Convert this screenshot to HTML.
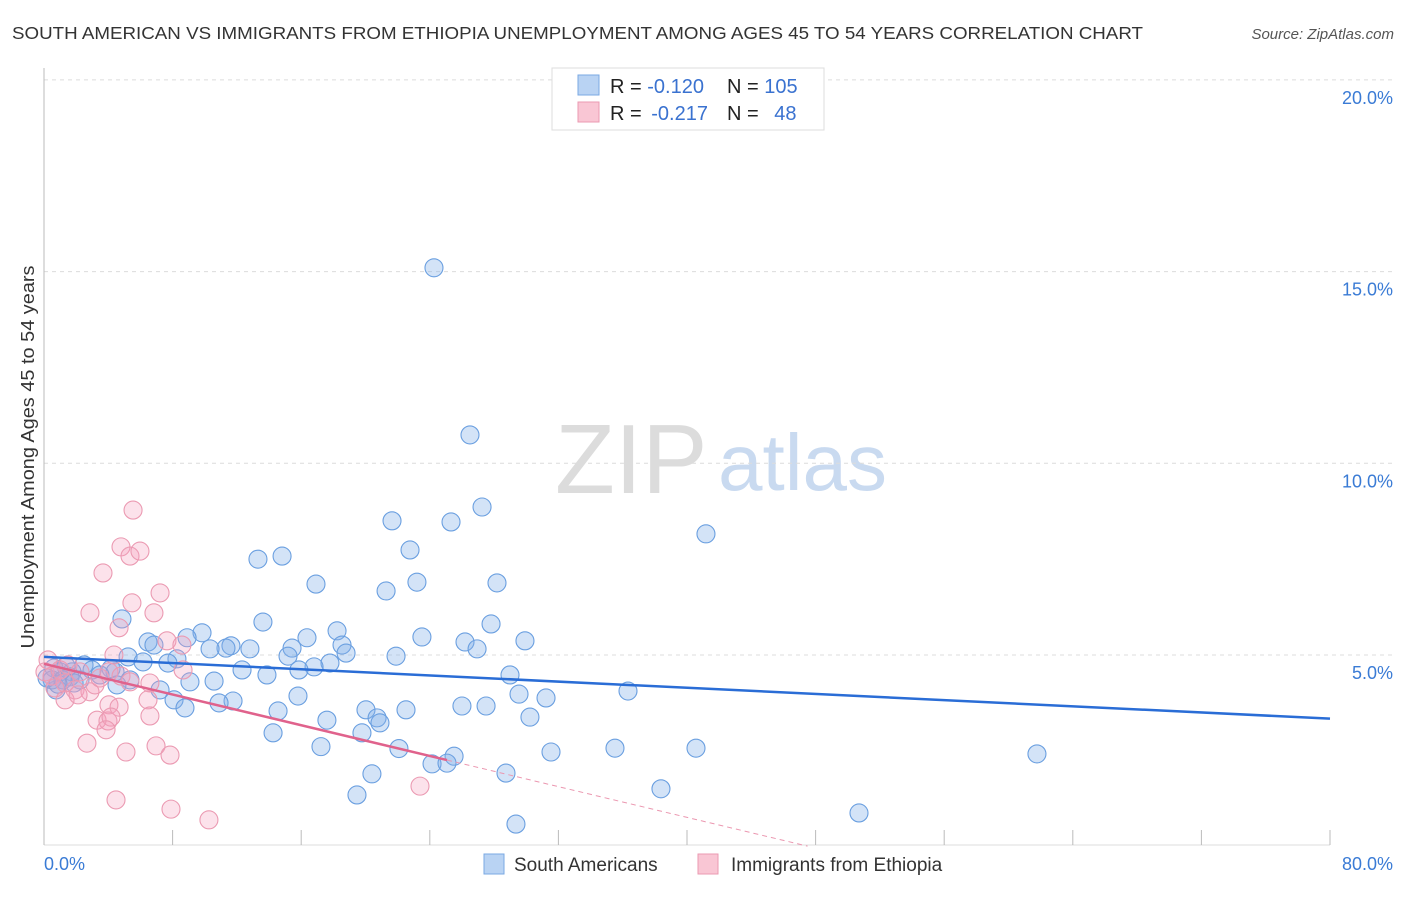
<!DOCTYPE html>
<html><head><meta charset="utf-8">
<style>
body{margin:0;background:#fff;font-family:"Liberation Sans",sans-serif;}
svg text{font-family:"Liberation Sans",sans-serif;}
</style></head>
<body>
<svg id="chart" width="1406" height="892" viewBox="0 0 1406 892" xmlns="http://www.w3.org/2000/svg">
<text x="12" y="39" font-size="17.5" fill="#333" textLength="1131" lengthAdjust="spacingAndGlyphs">SOUTH AMERICAN VS IMMIGRANTS FROM ETHIOPIA UNEMPLOYMENT AMONG AGES 45 TO 54 YEARS CORRELATION CHART</text>
<text x="1394" y="39" font-size="15" fill="#555" font-style="italic" text-anchor="end">Source: ZipAtlas.com</text>
<text transform="translate(34,457) rotate(-90)" font-size="18.5" fill="#333" text-anchor="middle" textLength="383" lengthAdjust="spacingAndGlyphs">Unemployment Among Ages 45 to 54 years</text>
<g>
<text x="555" y="493" font-size="98" fill="#dcdcdc" font-family="Liberation Serif, serif">ZIP</text>
<text x="718" y="490" font-size="80" fill="#c9daf0">atlas</text>
</g>
<g id="grid"></g>
<g id="axes"></g>
<g id="marks"></g>
<g>
<rect x="552" y="68" width="272" height="62" fill="#fff" stroke="#ddd"/>
<rect x="578" y="75" width="21" height="20" fill="#b9d3f3" stroke="#7aa8e3"/>
<text x="610" y="93" font-size="20" fill="#222">R = <tspan fill="#3a72d0">-0.120</tspan></text>
<text x="727" y="93" font-size="20" fill="#222">N = <tspan fill="#3a72d0">105</tspan></text>
<rect x="578" y="102" width="21" height="20" fill="#f9c6d4" stroke="#eb9ab2"/>
<text x="610" y="120" font-size="20" fill="#222">R = <tspan fill="#3a72d0" dx="4">-0.217</tspan></text>
<text x="727" y="120" font-size="20" fill="#222">N = <tspan fill="#3a72d0" dx="10">48</tspan></text>
</g>
<g>
<rect x="484" y="854" width="20" height="20" fill="#b9d3f3" stroke="#7aa8e3"/>
<text x="514" y="871" font-size="19" fill="#333">South Americans</text>
<rect x="698" y="854" width="20" height="20" fill="#f9c6d4" stroke="#eb9ab2"/>
<text x="731" y="871" font-size="19" fill="#333">Immigrants from Ethiopia</text>
</g>
</svg>
<script>
const blueX=[24.26,26.5,27.25,21.65,25.32,41.18,22.77,13.31,14.81,16.92,23.2,21.28,28.18,4.85,13.62,27.81,18.23,9.83,23.51,8.9,26.19,29.92,6.47,6.84,18.54,11.63,11.32,16.36,15.43,26.94,12.81,10.33,18.79,15.18,21.9,5.23,8.27,6.16,7.71,17.79,16.8,12.32,15.86,28.99,13.87,4.17,4.42,2.49,1.37,2.99,1.74,0.62,1.0,3.48,5.35,9.08,10.58,4.54,7.22,36.33,15.8,29.55,31.23,11.76,10.89,8.09,8.77,20.03,22.52,26.0,27.5,20.72,20.9,17.6,30.23,14.56,14.25,19.78,17.23,22.08,31.54,35.52,40.56,61.77,25.51,24.14,25.07,20.4,28.74,38.38,19.47,29.36,50.7,0.75,0.5,0.19,1.62,2.24,1.18,1.87,0.87];
const blueY=[15.10,10.74,8.86,8.50,8.47,8.16,7.74,7.50,7.58,6.85,6.90,6.67,6.88,5.94,5.86,5.81,5.63,5.58,5.47,5.45,5.34,5.37,5.34,5.26,5.26,5.24,5.18,5.45,5.18,5.16,5.16,5.16,5.05,4.97,4.97,4.95,4.90,4.82,4.79,4.79,4.69,4.61,4.61,4.48,4.48,4.64,4.56,4.74,4.71,4.61,4.56,4.66,4.56,4.48,4.35,4.30,4.32,4.22,4.09,4.06,3.93,3.98,3.88,3.80,3.75,3.83,3.62,3.57,3.57,3.67,3.67,3.36,3.23,3.30,3.38,3.54,2.97,2.97,2.61,2.56,2.47,2.57,2.57,2.42,2.36,2.16,2.18,1.90,1.92,1.51,1.35,0.59,0.88,4.09,4.35,4.40,4.43,4.35,4.35,4.27,4.24];
const pinkX=[5.54,4.79,5.35,5.97,3.67,7.22,5.47,2.86,6.84,4.67,7.65,8.58,4.35,0.25,0.06,0.5,1.0,1.49,2.24,1.31,0.68,1.93,2.86,3.17,3.48,4.04,4.79,5.35,6.59,6.47,8.65,4.04,4.67,3.3,3.98,4.17,6.59,3.86,6.97,7.84,5.1,2.67,4.48,7.9,10.26,23.39,1.31,2.12];
const pinkY=[8.78,7.82,7.58,7.71,7.14,6.62,6.36,6.10,6.10,5.71,5.37,5.26,5.0,4.87,4.56,4.45,4.61,4.74,4.56,4.27,4.14,4.09,4.04,4.22,4.40,4.56,4.45,4.30,4.27,3.83,4.61,3.70,3.64,3.30,3.28,3.38,3.41,3.05,2.63,2.39,2.47,2.70,1.22,0.98,0.70,1.58,3.83,3.96];
const blueTrend=[0,4.95,80,3.34];
const pinkTrend=[0,4.77,25.07,2.26];
const pinkTrendDashEnd=47.5;
const yTicks=[5,10,15,20];
const yTickLabels=["5.0%","10.0%","15.0%","20.0%"];
const xTicks=[0,8,16,24,32,40,48,56,64,72,80];

const NS="http://www.w3.org/2000/svg";
const X0=44,X1=1330,Y0=846.7,PXPER=38.34;
const sx=v=>X0+(X1-X0)*v/80;
const sy=v=>Y0-v*PXPER;
function mk(tag,attrs,parent){const e=document.createElementNS(NS,tag);for(const k in attrs)e.setAttribute(k,attrs[k]);parent.appendChild(e);return e;}
const grid=document.getElementById('grid'),axes=document.getElementById('axes'),marks=document.getElementById('marks');
yTicks.forEach((t,i)=>{
  const l=mk('line',{x1:X0,x2:1394,y1:sy(t),y2:sy(t),stroke:'#dcdcdc','stroke-dasharray':'4,4'},grid);
  
  
  const tx=mk('text',{x:1393,y:sy(t)+24,'font-size':18,fill:'#3a7bd5','text-anchor':'end'},axes);
  tx.textContent=yTickLabels[i];
  
  
});
const ya=mk('line',{x1:X0,x2:X0,y1:68,y2:845,stroke:'#bbb'},axes);


const xa=mk('line',{x1:X0,x2:X1,y1:845,y2:845,stroke:'#ddd'},axes);


xTicks.forEach(t=>{
  const l=mk('line',{x1:sx(t),x2:sx(t),y1:830,y2:845,stroke:'#bbb'},axes);
  
  
});
const xl0=mk('text',{x:44,y:870,'font-size':18,fill:'#3a7bd5'},axes);
xl0.textContent='0.0%';


const xl1=mk('text',{x:1393,y:870,'font-size':18,fill:'#3a7bd5','text-anchor':'end'},axes);
xl1.textContent='80.0%';



blueX.forEach((x,i)=>{
  const c=mk('circle',{cx:sx(x),cy:sy(blueY[i]),r:9,fill:'rgba(130,175,232,0.35)',stroke:'#6a9fe0','stroke-width':1.1},marks);
  
  
});
pinkX.forEach((x,i)=>{
  const c=mk('circle',{cx:sx(x),cy:sy(pinkY[i]),r:9,fill:'rgba(244,160,188,0.3)',stroke:'#eb9ab2','stroke-width':1.1},marks);
  
  
});
const bt=mk('line',{x1:sx(blueTrend[0]),y1:sy(blueTrend[1]),x2:sx(blueTrend[2]),y2:sy(blueTrend[3]),stroke:'#2a6dd6','stroke-width':2.5},marks);


const slope=(pinkTrend[3]-pinkTrend[1])/(pinkTrend[2]-pinkTrend[0]);
const pt=mk('line',{x1:sx(pinkTrend[0]),y1:sy(pinkTrend[1]),x2:sx(pinkTrend[2]),y2:sy(pinkTrend[3]),stroke:'#e0628c','stroke-width':2.5},marks);


const pd=mk('line',{x1:sx(pinkTrend[2]),y1:sy(pinkTrend[3]),x2:sx(pinkTrendDashEnd),y2:sy(pinkTrend[1]+slope*pinkTrendDashEnd),stroke:'#eb97b0','stroke-width':1,'stroke-dasharray':'5,4'},marks);


</script>
</body></html>
